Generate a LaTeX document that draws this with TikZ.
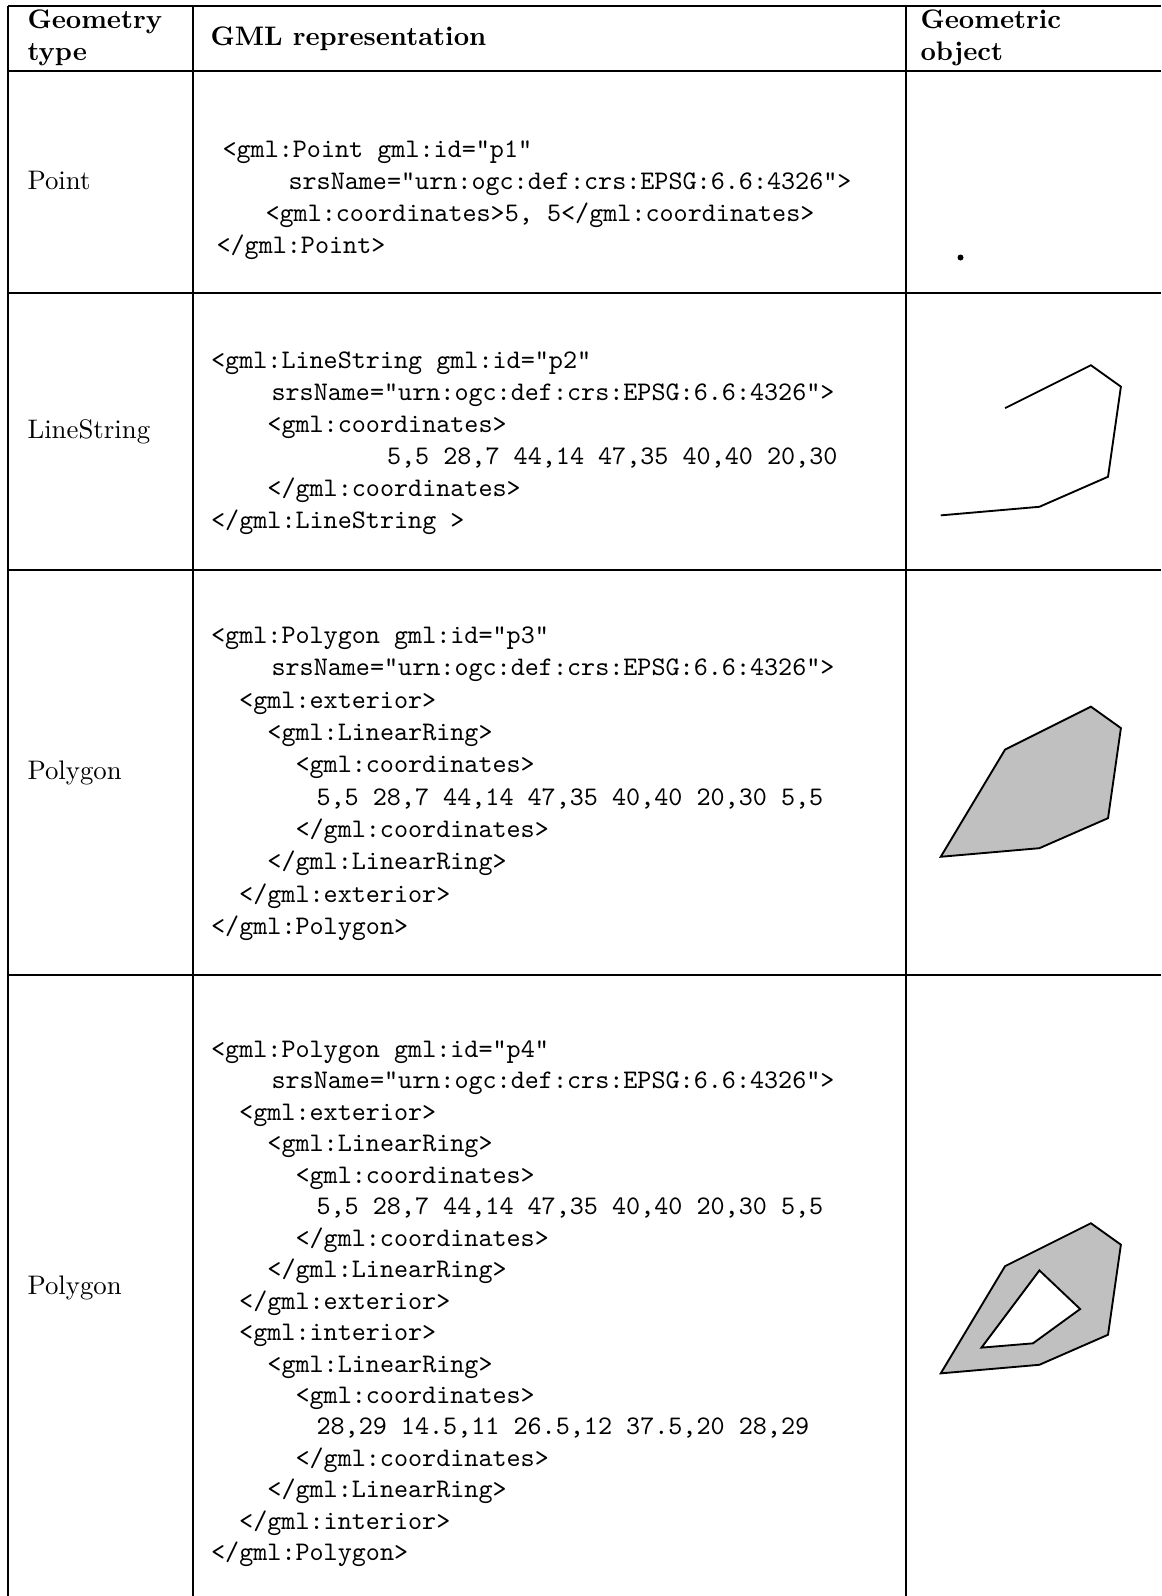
\documentclass[tikz,border=0pt]{standalone}
\usepackage{tikz}
\definecolor{figfill}{RGB}{192,192,192}
\tikzset{
  rule/.style  ={draw=black, line width=0.45pt},
  hd/.style    ={font=\bfseries, anchor=base west, inner sep=0pt},
  lab/.style   ={anchor=base west, inner sep=0pt},
  code/.style  ={font=\ttfamily, anchor=base west, inner sep=0pt},
  geo/.style   ={draw=black, line width=0.7pt, line join=miter},
}

\begin{document}
\begin{tikzpicture}[x=0.373pt, y=-0.373pt]
  \useasboundingbox (0,0) rectangle (1161,1596);
  % table rules
  \draw[rule] (8,6) -- (1161,6);
  \draw[rule] (8,71) -- (1161,71);
  \draw[rule] (8,293) -- (1161,293);
  \draw[rule] (8,570) -- (1161,570);
  \draw[rule] (8,975) -- (1161,975);
  \draw[rule] (8,6) -- (8,1596);
  \draw[rule] (193,6) -- (193,1596);
  \draw[rule] (906,6) -- (906,1596);
  % header
  \node[hd] (h1a) at (27,28) {Geometry};
  \node[hd] (h1b) at (27,60) {type};
  \node[hd] (h2) at (210,45) {GML representation};
  \node[hd] (h3a) at (920,28) {Geometric};
  \node[hd] (h3b) at (920,60) {object};
  % row 1
  \node[lab] (t1) at (27,189) {Point};
  \node[code] (c1-1) at (222,157) {<gml:Point gml:id="p1"};
  \node[code] (c1-2) at (288,189) {srsName="urn:ogc:def:crs:EPSG:6.6:4326">};
  \node[code] (c1-3) at (265,221) {<gml:coordinates>5, 5</gml:coordinates>};
  \node[code] (c1-4) at (216,253) {</gml:Point>};
  \fill (960.5,257.5) circle (3);
  % row 2
  \node[lab] (t2) at (27,438) {LineString};
  \node[code] (c2-1) at (210.6,368) {<gml:LineString gml:id="p2"};
  \node[code] (c2-2) at (271,400) {srsName="urn:ogc:def:crs:EPSG:6.6:4326">};
  \node[code] (c2-3) at (266.9,432) {<gml:coordinates>};
  \node[code] (c2-4) at (386.5,464) {5,5 28,7 44,14 47,35 40,40 20,30};
  \node[code] (c2-5) at (266.9,496) {</gml:coordinates>};
  \node[code] (c2-6) at (210.6,528) {</gml:LineString >};
  \begin{scope}[shift={(919.3,536.8)}, x=1.6pt, y=1.6pt]
    \draw[geo] (5,5) -- (28,7) -- (44,14) -- (47,35) -- (40,40) -- (20,30);
  \end{scope}
  % row 3
  \node[lab] (t3) at (27,779) {Polygon};
  \node[code] (c3-1) at (210.6,643) {<gml:Polygon gml:id="p3"};
  \node[code] (c3-2) at (271,675) {srsName="urn:ogc:def:crs:EPSG:6.6:4326">};
  \node[code] (c3-3) at (238.7,708) {<gml:exterior>};
  \node[code] (c3-4) at (266.9,740) {<gml:LinearRing>};
  \node[code] (c3-5) at (295,772) {<gml:coordinates>};
  \node[code] (c3-6) at (316,805) {5,5 28,7 44,14 47,35 40,40 20,30 5,5};
  \node[code] (c3-7) at (295,837) {</gml:coordinates>};
  \node[code] (c3-8) at (266.9,869) {</gml:LinearRing>};
  \node[code] (c3-9) at (238.7,902) {</gml:exterior>};
  \node[code] (c3-10) at (210.6,934) {</gml:Polygon>};
  \begin{scope}[shift={(919.3,878.2)}, x=1.6pt, y=1.6pt]
    \filldraw[geo, fill=figfill] (5,5) -- (28,7) -- (44,14) -- (47,35) -- (40,40) -- (20,30) -- cycle;
  \end{scope}
  % row 4
  \node[lab] (t4) at (27,1294) {Polygon};
  \node[code] (c4-1) at (210.6,1057) {<gml:Polygon gml:id="p4"};
  \node[code] (c4-2) at (271,1088) {srsName="urn:ogc:def:crs:EPSG:6.6:4326">};
  \node[code] (c4-3) at (238.7,1120) {<gml:exterior>};
  \node[code] (c4-4) at (266.9,1151) {<gml:LinearRing>};
  \node[code] (c4-5) at (295,1183) {<gml:coordinates>};
  \node[code] (c4-6) at (316,1214) {5,5 28,7 44,14 47,35 40,40 20,30 5,5};
  \node[code] (c4-7) at (295,1246) {</gml:coordinates>};
  \node[code] (c4-8) at (266.9,1277) {</gml:LinearRing>};
  \node[code] (c4-9) at (238.7,1309) {</gml:exterior>};
  \node[code] (c4-10) at (238.7,1340) {<gml:interior>};
  \node[code] (c4-11) at (266.9,1372) {<gml:LinearRing>};
  \node[code] (c4-12) at (295,1403) {<gml:coordinates>};
  \node[code] (c4-13) at (316,1434) {28,29 14.5,11 26.5,12 37.5,20 28,29};
  \node[code] (c4-14) at (295,1466) {</gml:coordinates>};
  \node[code] (c4-15) at (266.9,1497) {</gml:LinearRing>};
  \node[code] (c4-16) at (238.7,1529) {</gml:interior>};
  \node[code] (c4-17) at (210.6,1560) {</gml:Polygon>};
  \begin{scope}[shift={(919.3,1394.8)}, x=1.6pt, y=1.6pt]
    \filldraw[geo, fill=figfill, even odd rule] (5,5) -- (28,7) -- (44,14) -- (47,35) -- (40,40) -- (20,30) -- cycle
      (28,29) -- (14.5,11) -- (26.5,12) -- (37.5,20) -- cycle;
  \end{scope}
\end{tikzpicture}
\end{document}
